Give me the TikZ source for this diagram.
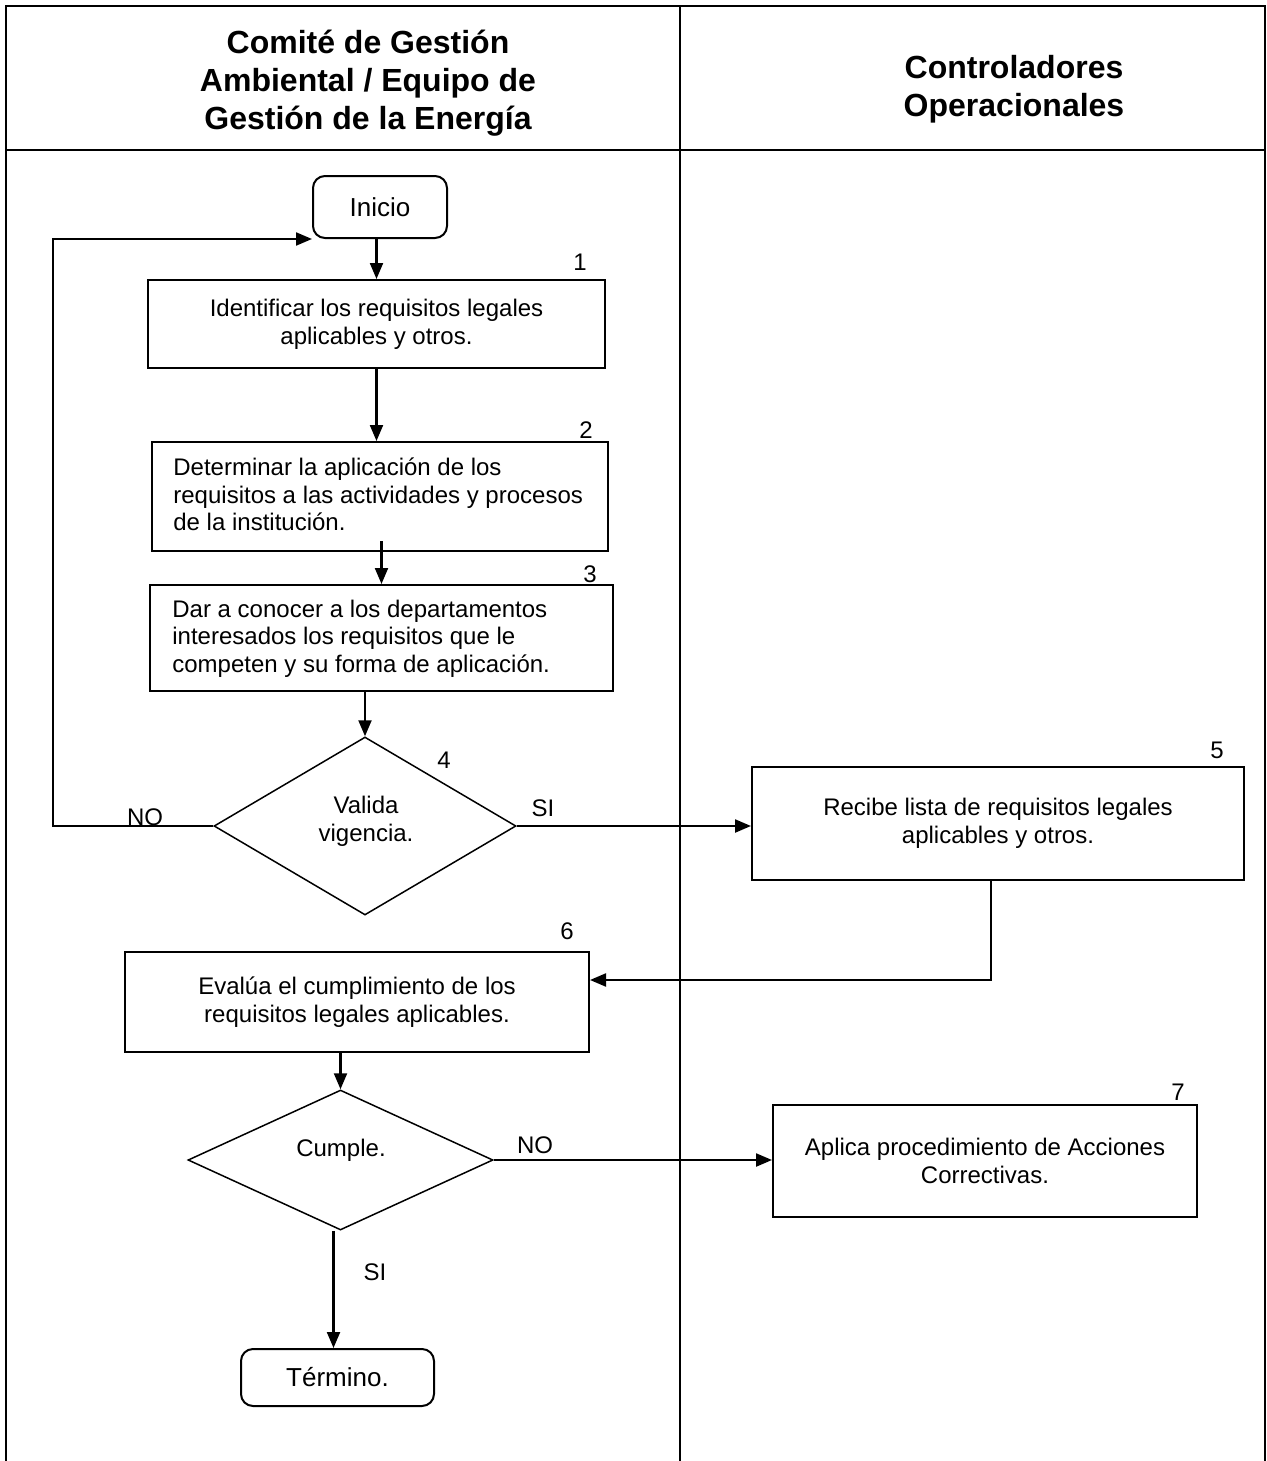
\documentclass[tikz,border=0pt]{standalone}
\usepackage{fontspec}
\setmainfont{Liberation Sans}
\usetikzlibrary{arrows.meta,shapes.geometric,calc}
\begin{document}
\begin{tikzpicture}[x=0.5pt,y=-0.5pt,
  frame/.style={line width=1pt},
  procbox/.style={draw,line width=1pt,rectangle,inner sep=0pt,align=center,font=\fontsize{12}{13.8}\selectfont},
  termbox/.style={draw,line width=1pt,rectangle,rounded corners=6pt,inner sep=0pt,font=\fontsize{13}{15}\selectfont},
  decbox/.style={draw,line width=0.75pt,diamond,inner sep=0pt},
  txt/.style={inner sep=0pt,align=center,font=\fontsize{12}{13.8}\selectfont},
  ltxt/.style={inner sep=0pt,align=left,anchor=west,font=\fontsize{12}{13.8}\selectfont},
  numlab/.style={inner sep=0pt,font=\fontsize{12}{13.8}\selectfont},
  hdr/.style={inner sep=0pt,align=center,font=\fontsize{16}{19}\selectfont\bfseries},
  arr/.style={line width=1.1pt,-{Triangle[length=8pt,width=6.5pt]}}]
\useasboundingbox (0,0) rectangle (1267,1461);
% frame
\draw[frame] (6,1461) -- (6,6) -- (1265,6) -- (1265,1461);
\draw[frame] (6,150) -- (1265,150);
\draw[frame] (680,6) -- (680,1461);
% headers
\node[hdr] (h1) at (368,83) {Comité de Gestión\\Ambiental / Equipo de\\Gestión de la Energía};
\node[hdr] (h2) at (1014,89) {Controladores\\Operacionales};
% nodes
\node[termbox,minimum width=67pt,minimum height=31pt] (ini) at (380,207) {Inicio};
\node[procbox,minimum width=228.5pt,minimum height=44pt] (b1) at (376.5,324) {Identificar los requisitos legales\\aplicables y otros.};
\node[procbox,minimum width=228pt,minimum height=54.5pt] (b2) at (380,496.5) {};
\node[ltxt] (b2t) at (173,494.5) {Determinar la aplicación de los\\requisitos a las actividades y procesos\\de la institución.};
\node[procbox,minimum width=231.5pt,minimum height=53pt] (b3) at (381.5,638) {};
\node[ltxt] (b3t) at (172,638.5) {Dar a conocer a los departamentos\\interesados los requisitos que le\\competen y su forma de aplicación.};
\node[decbox,minimum width=151pt,minimum height=89pt] (d4) at (365,826) {};
\node[txt] (d4t) at (366,821) {Valida\\vigencia.};
\node[procbox,minimum width=246pt,minimum height=56.5pt] (b5) at (998,823.5) {Recibe lista de requisitos legales\\aplicables y otros.};
\node[procbox,minimum width=232pt,minimum height=50pt] (b6) at (357,1002) {Evalúa el cumplimiento de los\\requisitos legales aplicables.};
\node[decbox,minimum width=152.5pt,minimum height=70pt] (dc) at (340.5,1160) {};
\node[txt] (dct) at (341,1150) {Cumple.};
\node[procbox,minimum width=212pt,minimum height=56pt] (b7) at (985,1161) {Aplica procedimiento de Acciones\\Correctivas.};
\node[termbox,minimum width=96.5pt,minimum height=28.5pt] (ter) at (337.5,1377.5) {Término.};
% numbers
\node[numlab] (n1) at (580,262) {1};
\node[numlab] (n2) at (586,430) {2};
\node[numlab] (n3) at (590,574) {3};
\node[numlab] (n4) at (444,760) {4};
\node[numlab] (n5) at (1217,750) {5};
\node[numlab] (n6) at (567,931) {6};
\node[numlab] (n7) at (1178,1092) {7};
% branch labels
\node[txt] (lno1) at (145,817) {NO};
\node[txt] (lsi1) at (543,808) {SI};
\node[txt] (lno2) at (535,1145) {NO};
\node[txt] (lsi2) at (375,1272) {SI};
% connectors
\draw[arr] (b1.north |- ini.south) -- (b1.north);
\draw[arr] (b1.south) -- (b1.south |- b2.north);
\draw[arr] ([yshift=5.5pt]b2.south -| b3.north) -- (b3.north);
\draw[arr] (d4.north |- b3.south) -- (d4.north);
\coordinate (lp) at (53,826);
\draw[arr] (d4.west) -- (lp) |- (ini.south west);
\draw[arr] (d4.east) -- (d4.east -| b5.west);
\coordinate (c56) at (991,980);
\draw[arr] (b5.south -| c56) -- (c56) -- (c56 -| b6.east);
\draw[arr] (dc.north |- b6.south) -- (dc.north);
\draw[arr] (dc.east) -- (dc.east -| b7.west);
\draw[arr] ([xshift=-3.5pt]dc.south) -- ([xshift=-3.5pt]dc.south |- ter.north);
\end{tikzpicture}
\end{document}
